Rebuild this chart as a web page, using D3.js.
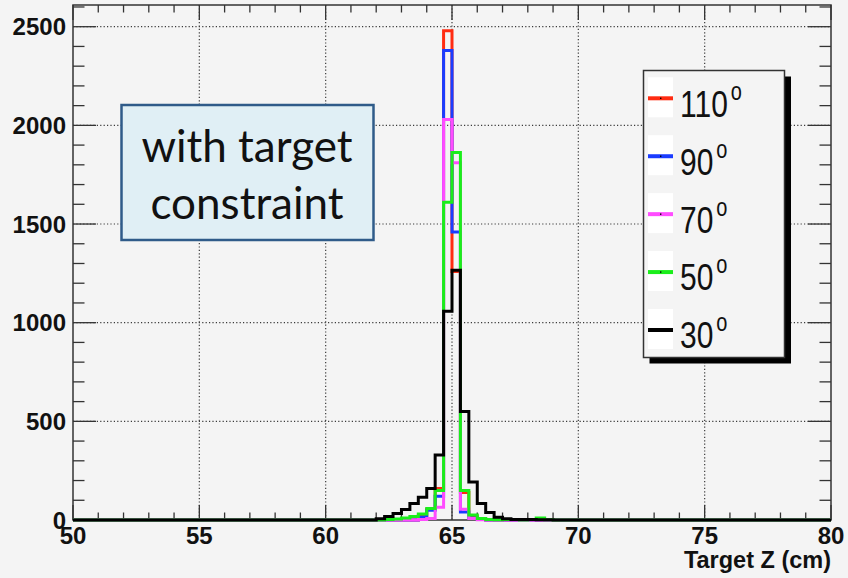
<!DOCTYPE html>
<html lang="en">
<head>
<meta charset="UTF-8">
<title>Target Z</title>
<script src="https://d3js.org/d3.v7.min.js"></script>
<style>
  body { margin: 0; background: #f4f4f4; }
  svg { display: block; }
</style>
</head>
<body>
<div id="chart"></div>
<script>
// histogram: 90 bins of 1/3 cm over 50..80 cm; values listed for the window 60..70 cm (bins 30..59)
const binLo = 50, binHi = 80, nBins = 90;
const windowStart = 30;
const series = ["110", "90", "70", "50", "30"];
const colors = ["#ff2c12", "#1a3cff", "#ff4cff", "#1aee1a", "#000000"];

const counts110 = [0,0,0,0,0, 0,0,0,0,0, 0,20,55,160,2480, 1260,140,20,5,0, 0,0,0,0,0, 0,0,0,0,0];
const counts90  = [0,0,0,0,0, 0,0,0,0,0, 0,15,50,120,2380, 1460,40,10,3,0, 0,0,0,0,0, 0,0,0,0,0];
const counts70  = [0,0,0,0,0, 0,0,0,0,0, 0,2,8,65,2030, 1810,55,8,1,0, 0,0,0,0,0, 0,0,0,0,0];
const counts50  = [0,0,0,0,0, 0,0,2,5,10, 18,30,58,150,1610, 1862,150,25,8,2, 1,2,3,0,2, 10,1,0,0,0];
const counts30  = [0,0,0,0,0, 0,6,18,33,53, 84,115,160,330,1058, 1266,550,192,84,38, 14,6,3,2,2, 1,1,0,0,0];
const allCounts = [counts110, counts90, counts70, counts50, counts30];

const xTicks = [50, 55, 60, 65, 70, 75, 80];
const yTicks = [0, 500, 1000, 1500, 2000, 2500];
const boxLines = ["with target", "constraint"];

const W = 848, H = 578;
const svg = d3.select("#chart").append("svg").attr("width", W).attr("height", H);
svg.append("rect").attr("width", W).attr("height", H).attr("fill", "#f4f4f4");

const x = d3.scaleLinear().domain([binLo, binHi]).range([73, 831]);
const y = d3.scaleLinear().domain([0, 2610]).range([520, 5]);

// grid
const grid = svg.append("g").attr("stroke", "#3a3a3a").attr("stroke-width", 1.2)
  .attr("stroke-dasharray", "1.2,2.2");
xTicks.slice(1, -1).forEach(v => {
  grid.append("line").attr("x1", x(v)).attr("x2", x(v)).attr("y1", y.range()[1]).attr("y2", y(0));
});
yTicks.slice(1).forEach(v => {
  grid.append("line").attr("x1", x(binLo)).attr("x2", x(binHi)).attr("y1", y(v)).attr("y2", y(v));
});

// ticks (all four sides)
const tk = svg.append("g").attr("stroke", "#333").attr("stroke-width", 1.3);
d3.range(binLo, binHi + 0.5, 1).forEach(v => {
  const len = v % 5 === 0 ? 15 : 7.5;
  tk.append("line").attr("x1", x(v)).attr("x2", x(v)).attr("y1", y(0)).attr("y2", y(0) - len);
  tk.append("line").attr("x1", x(v)).attr("x2", x(v)).attr("y1", y.range()[1]).attr("y2", y.range()[1] + len);
});
d3.range(0, 2601, 100).forEach(v => {
  const len = v % 500 === 0 ? 23 : 11.5;
  tk.append("line").attr("x1", x(binLo)).attr("x2", x(binLo) + len).attr("y1", y(v)).attr("y2", y(v));
  tk.append("line").attr("x1", x(binHi)).attr("x2", x(binHi) - len).attr("y1", y(v)).attr("y2", y(v));
});

// frame
svg.append("rect").attr("x", x(binLo)).attr("y", y.range()[1])
  .attr("width", x(binHi) - x(binLo)).attr("height", y(0) - y.range()[1])
  .attr("fill", "none").attr("stroke", "#333").attr("stroke-width", 1.5);

// histograms
const binW = (binHi - binLo) / nBins;
const line = d3.line().x(d => x(d[0])).y(d => y(d[1]));
allCounts.forEach((c, si) => {
  const pts = [];
  for (let k = 0; k < nBins; k++) {
    const i = k - windowStart;
    const v = (i >= 0 && i < c.length) ? c[i] : 0;
    pts.push([binLo + k * binW, v], [binLo + (k + 1) * binW, v]);
  }
  svg.append("path").attr("d", line(pts)).attr("fill", "none")
    .attr("stroke", colors[si]).attr("stroke-width", 3).attr("stroke-linejoin", "miter");
});

// tick labels
const lab = svg.append("g").attr("font-family", "'Liberation Sans', Arial, sans-serif")
  .attr("font-weight", "bold").attr("font-size", 24).attr("fill", "#111");
yTicks.forEach(v => {
  lab.append("text").attr("x", 66).attr("y", y(v) + 8.5).attr("text-anchor", "end").text(v);
});
xTicks.forEach(v => {
  lab.append("text").attr("x", x(v)).attr("y", 544).attr("text-anchor", "middle").text(v);
});
lab.append("text").attr("x", 831).attr("y", 568).attr("text-anchor", "end")
  .attr("font-size", 23.5).text("Target Z (cm)");

// annotation box
svg.append("rect").attr("x", 121.5).attr("y", 105).attr("width", 252).attr("height", 135)
  .attr("fill", "#e0eff5").attr("stroke", "#2f5b89").attr("stroke-width", 2.5);
boxLines.forEach((t, i) => {
  svg.append("text").attr("x", 247).attr("y", 162 + i * 56.5).attr("text-anchor", "middle")
    .attr("font-family", "Lato, 'Open Sans', sans-serif").attr("font-size", 44).attr("fill", "#111")
    .text(t);
});

// legend
const leg = svg.append("g");
leg.append("rect").attr("x", 649.5).attr("y", 76.5).attr("width", 141.5).attr("height", 287).attr("fill", "#000");
leg.append("rect").attr("x", 643.5).attr("y", 70.5).attr("width", 141).attr("height", 287)
  .attr("fill", "#f4f4f4").attr("stroke", "#333").attr("stroke-width", 1.5);
const rowY = d3.scaleLinear().domain([0, series.length - 1]).range([98.3, 330]);
series.forEach((s, i) => {
  const cy = rowY(i);
  leg.append("rect").attr("x", 648).attr("y", cy - 21).attr("width", 25).attr("height", 40).attr("fill", "#fff");
  leg.append("line").attr("x1", 648).attr("x2", 673).attr("y1", cy).attr("y2", cy)
    .attr("stroke", colors[i]).attr("stroke-width", 4);
  leg.append("rect").attr("x", 660).attr("y", cy - 0.7).attr("width", 1.4).attr("height", 1.4).attr("fill", "#000");
  const t = leg.append("text")
    .attr("transform", `translate(680,${cy + 18.4}) scale(1,1.26)`)
    .attr("font-family", "'Liberation Sans', Arial, sans-serif").attr("font-size", 30).attr("fill", "#111");
  t.append("tspan").text(s);
  t.append("tspan").attr("font-size", 20).attr("dx", 3).attr("dy", -13.5).text("o");
});
</script>
</body>
</html>
